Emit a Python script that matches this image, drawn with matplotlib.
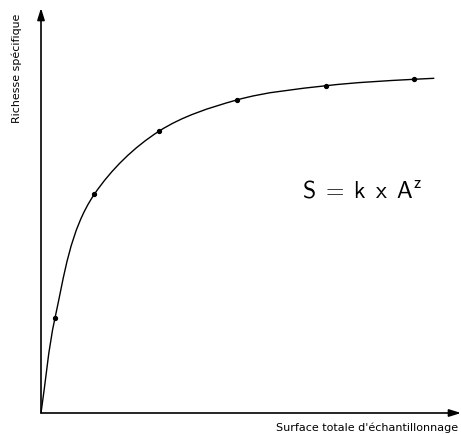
import matplotlib
matplotlib.use("Agg")
import matplotlib.pyplot as plt
import numpy as np
from matplotlib.path import Path
from matplotlib.patches import PathPatch

plt.rcParams['mathtext.fontset'] = 'cm'

# Curve knots: origin, marked samples, end of curve (arbitrary units)
curve_x = [0, 14, 53.3, 118.3, 195.7, 285.3, 373, 393.3]
curve_y = [0, 95, 218.7, 282, 313, 327.3, 333.7, 334.7]

# Marked sample points
pts_x = [14, 53.3, 118.3, 195.7, 285.3, 373]
pts_y = [95, 218.7, 282, 313, 327.3, 333.7]

xlabel = "Surface totale d'échantillonnage"
ylabel = "Richesse spécifique"
formula = r"$\mathsf{S}\;=\;\mathsf{k}\ \,\mathsf{x}\ \,\mathsf{A}^{\mathsf{z}}$"

W, H = 461, 434
fig = plt.figure(figsize=(W / 100, H / 100), dpi=100)
ax = fig.add_axes([41 / W, 21 / H, 420 / W, 405 / H])
ax.set_xlim(0, 420)
ax.set_ylim(0, 405)
ax.axis('off')

# Smooth line through the knots (cubic Bezier path, chord-weighted tangents)
P = np.column_stack([curve_x, curve_y]).astype(float)
n = len(P)
seg = np.diff(P, axis=0)
d = np.hypot(seg[:, 0], seg[:, 1])
u = seg / d[:, None]
tang = np.zeros_like(P)
tang[0] = u[0]
tang[-1] = u[-1]
for i in range(1, n - 1):
    t = (d[i] * u[i - 1] + d[i - 1] * u[i]) / (d[i - 1] + d[i])
    tang[i] = t / np.hypot(*t)
verts = [tuple(P[0])]
codes = [Path.MOVETO]
for i in range(n - 1):
    c1 = P[i] + tang[i] * d[i] / 3
    c2 = P[i + 1] - tang[i + 1] * d[i] / 3
    verts += [tuple(c1), tuple(c2), tuple(P[i + 1])]
    codes += [Path.CURVE4] * 3
ax.add_patch(PathPatch(Path(verts, codes), facecolor='none', edgecolor='black',
                       lw=1.0, clip_on=False))
ax.plot(pts_x, pts_y, 'o', color='black', ms=2.8, clip_on=False)

arrow = dict(arrowstyle='-|>,head_length=0.7,head_width=0.22', color='black', lw=1.2,
             shrinkA=0, shrinkB=0)
ax.annotate('', xy=(420, 0), xytext=(0, 0), arrowprops=arrow, annotation_clip=False)
ax.annotate('', xy=(0, 405), xytext=(0, 0), arrowprops=arrow, annotation_clip=False)

fig.text(276 / W, 1 - 431 / H, xlabel, fontsize=8.0, ha='left', va='baseline',
         family='DejaVu Sans')
fig.text(17 / W, 1 - 68 / H, ylabel, fontsize=7.9, ha='center', va='center',
         rotation=90, family='DejaVu Sans')
fig.text(302 / W, 1 - 197 / H, formula, fontsize=17, ha='left', va='baseline')

fig.savefig('out.png', dpi=100)
